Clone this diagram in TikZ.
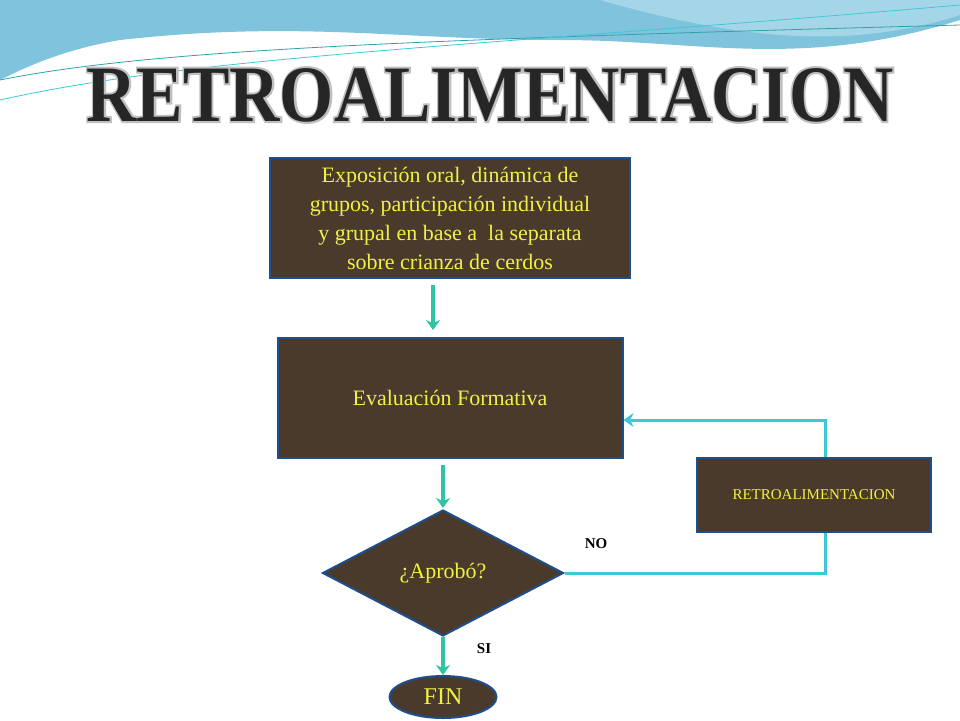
\documentclass[tikz,border=0pt]{standalone}
\usepackage{fontspec}
\setmainfont{Liberation Serif}
\newfontfamily\titlefont{Liberation Serif}
\usetikzlibrary{shapes.geometric,arrows.meta}
\definecolor{wood}{HTML}{4A3A2C}
\definecolor{bord}{HTML}{1F4E8C}
\definecolor{ytext}{HTML}{F2F044}
\definecolor{grn}{HTML}{2EC4A4}
\definecolor{cyn}{HTML}{3CC8D8}
\definecolor{sky}{HTML}{7FC4DC}
\tikzset{
 wbox/.style={draw=bord,line width=2pt,fill=wood,text=ytext,align=center,font=\fontsize{22}{29}\selectfont},
 garrow/.style={draw=grn,line width=3.5pt,-{Stealth[length=10pt,width=14pt]}},
 cline/.style={draw=cyn,line width=3pt},
 lab/.style={fill=white,font=\bfseries\fontsize{15}{16}\selectfont,inner sep=3pt,minimum width=40pt},
 ttl/.style={font=\titlefont\bfseries\fontsize{80}{80}\selectfont,xscale=0.87}
}
\begin{document}
\begin{tikzpicture}[x=1pt,y=-1pt]
\useasboundingbox (0,0) rectangle (960,720);
\fill[white] (0,0) rectangle (960,720);
% header waves
\fill[sky] (0,0) -- (960,0) -- (960,20) .. controls (800,70) and (700,40) .. (560,40)
  .. controls (400,40) and (300,20) .. (120,40) .. controls (60,50) and (20,70) .. (0,80) -- cycle;
\fill[sky!70!white] (600,0) -- (960,0) -- (960,15) .. controls (850,50) and (740,40) .. (600,0) -- cycle;
\draw[cyn!80!black,line width=0.8pt] (0,80) .. controls (150,50) and (400,40) .. (960,25);
\draw[cyn,line width=0.8pt] (0,100) .. controls (200,55) and (500,45) .. (960,5);
% title
\node[ttl,text=black!85] (title) at (490,95) {\special{pdf:literal direct 2 Tr 4 w 0.75 G}RETROALIMENTACION\special{pdf:literal direct 0 Tr}};
\node[ttl,text=black!85] at (490,95) {RETROALIMENTACION};
% boxes
\node[wbox,minimum width=360pt,minimum height=120pt] (b1) at (450,218)
 {Exposición oral, dinámica de\\grupos, participación individual\\y grupal en base a\ \ la separata\\sobre crianza de cerdos};
\node[wbox,minimum width=345pt,minimum height=120pt] (b2) at (450,398) {Evaluación Formativa};
\node[diamond,draw=bord,line width=2pt,fill=wood,text=ytext,font=\fontsize{22}{24}\selectfont,
  minimum width=241pt,minimum height=126pt,inner sep=0pt,aspect=1.9] (d) at (443,573) {¿Aprobó?};
\node[ellipse,draw=bord,line width=2pt,fill=wood,text=ytext,font=\fontsize{24}{26}\selectfont,
  minimum width=107pt,minimum height=42pt,inner sep=0pt] (fin) at (443,697) {FIN};
\node[wbox,minimum width=234pt,minimum height=74pt,font=\fontsize{15}{16}\selectfont] (r) at (814,495) {RETROALIMENTACION};
% arrows
\coordinate (a1s) at (433,285); \coordinate (a1e) at (433,330);
\draw[garrow] (a1s) -- (a1e);
\coordinate (a2s) at (443,465); \coordinate (a2e) at (443,508);
\draw[garrow] (a2s) -- (a2e);
\draw[garrow] (d.south) -- (fin.north);
\draw[cline] (d.east) -- (825,573) -- (r.south -| 825,0);
\draw[cline,-{Stealth[length=10pt,width=14pt]}] (r.north -| 825,0) -- (825,420) -- (b2.east |- 0,420);
\node[lab] (no) at (596,544) {NO};
\node[lab] (si) at (484,649) {SI};
\end{tikzpicture}
\end{document}
